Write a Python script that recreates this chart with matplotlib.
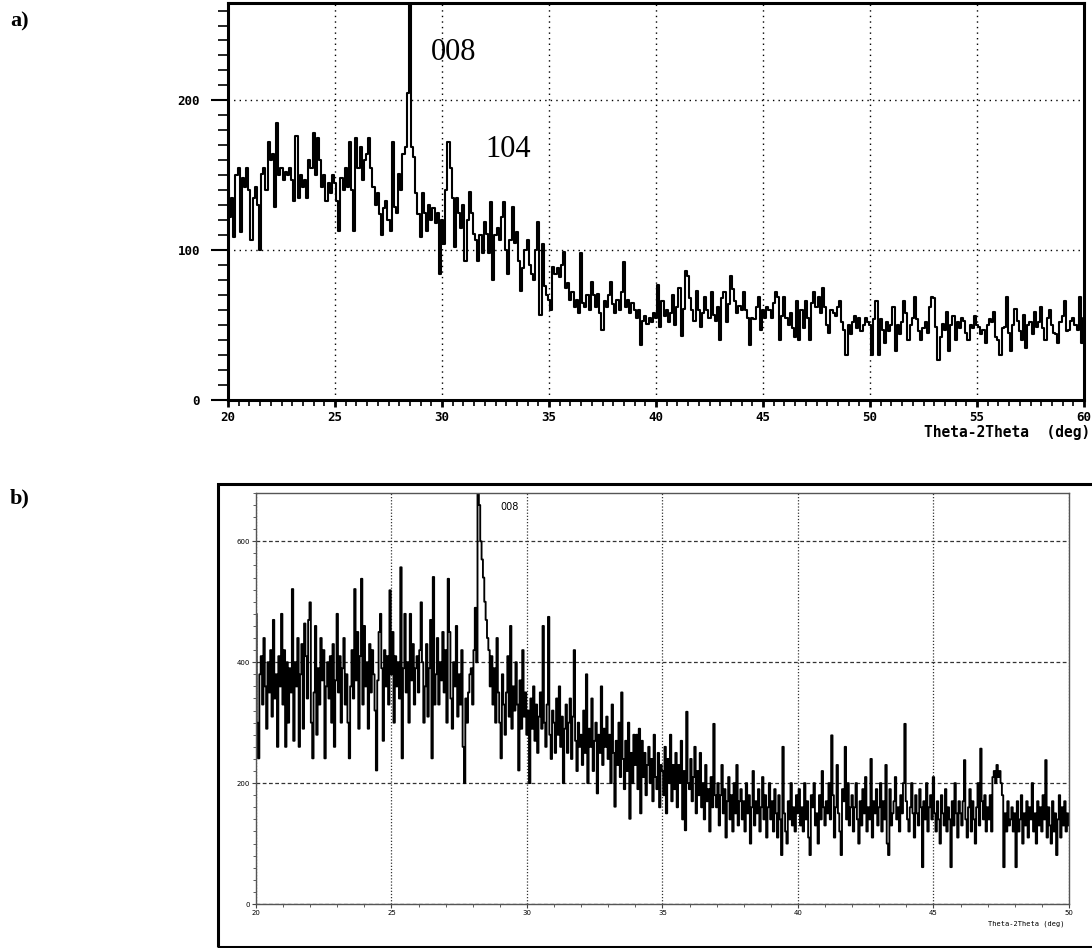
import numpy as np
import matplotlib
matplotlib.use("Agg")
import matplotlib.pyplot as plt
from matplotlib.ticker import MultipleLocator
from matplotlib.patches import Rectangle

# panel a) counts, 20-60 deg, step 0.1
counts_a = [
    140, 122, 135, 109, 150, 155, 112, 148, 142, 155,
    140, 107, 135, 142, 130, 100, 151, 155, 140, 172,
    160, 164, 129, 185, 150, 155, 147, 152, 150, 155,
    147, 133, 176, 135, 150, 142, 147, 135, 160, 155,
    178, 150, 175, 160, 142, 150, 133, 145, 138, 150,
    145, 133, 113, 148, 140, 155, 142, 172, 140, 113,
    175, 155, 169, 147, 160, 164, 175, 155, 142, 130,
    138, 124, 110, 128, 133, 120, 113, 172, 129, 125,
    151, 140, 164, 169, 205, 330, 169, 162, 138, 124,
    109, 138, 125, 113, 130, 120, 128, 118, 125, 84,
    120, 104, 140, 172, 155, 135, 102, 135, 125, 115,
    130, 93, 120, 139, 125, 111, 107, 93, 110, 98,
    119, 111, 98, 132, 80, 110, 115, 107, 122, 132,
    100, 84, 107, 129, 105, 112, 93, 73, 88, 100,
    107, 90, 84, 80, 100, 119, 57, 104, 76, 70,
    67, 60, 89, 84, 88, 82, 90, 99, 75, 78,
    67, 72, 62, 67, 58, 98, 65, 62, 70, 60,
    79, 70, 62, 71, 58, 47, 66, 62, 70, 79,
    64, 58, 67, 60, 72, 92, 62, 67, 58, 65,
    60, 55, 60, 37, 53, 56, 51, 55, 52, 58,
    55, 77, 49, 66, 56, 60, 52, 58, 70, 50,
    62, 75, 43, 61, 86, 83, 68, 60, 53, 73,
    60, 49, 58, 69, 60, 55, 72, 57, 53, 62,
    40, 68, 72, 52, 64, 83, 74, 66, 58, 63,
    60, 72, 60, 55, 37, 55, 54, 62, 69, 47,
    60, 55, 62, 60, 55, 65, 72, 69, 40, 56,
    69, 55, 50, 58, 48, 42, 66, 40, 60, 48,
    66, 55, 40, 65, 72, 62, 69, 58, 75, 62,
    50, 45, 60, 58, 56, 62, 66, 52, 47, 30,
    50, 44, 52, 56, 48, 55, 46, 50, 55, 52,
    50, 30, 54, 66, 30, 54, 47, 38, 52, 46,
    50, 62, 33, 50, 44, 52, 66, 58, 40, 50,
    55, 69, 54, 46, 40, 48, 52, 45, 62, 69,
    68, 49, 27, 42, 51, 47, 59, 33, 50, 56,
    40, 52, 48, 55, 53, 45, 40, 50, 48, 56,
    50, 49, 44, 47, 38, 50, 54, 52, 59, 42,
    40, 30, 48, 49, 69, 45, 33, 50, 61, 53,
    46, 40, 57, 35, 50, 52, 44, 59, 49, 52,
    62, 48, 40, 55, 60, 50, 45, 44, 38, 52,
    56, 66, 46, 47, 53, 55, 50, 47, 69, 38,
    55,
]

# panel b) counts, 20-50 deg, step 0.05
counts_b = [
    480, 300, 241, 380, 410, 330, 440, 360, 290, 400, 350, 420, 310, 470, 340, 380, 260, 410, 360, 480,
    330, 420, 260, 400, 300, 390, 350, 521, 270, 400, 360, 440, 260, 380, 430, 290, 464, 410, 340, 470,
    499, 300, 241, 350, 460, 280, 390, 330, 440, 370, 420, 241, 360, 400, 340, 410, 300, 430, 260, 370,
    480, 350, 410, 300, 390, 440, 330, 380, 300, 241, 360, 420, 340, 521, 370, 450, 290, 410, 538, 330,
    460, 360, 400, 290, 430, 350, 420, 380, 320, 221, 370, 450, 480, 390, 270, 420, 360, 410, 330, 519,
    380, 450, 300, 410, 360, 400, 340, 557, 241, 390, 480, 350, 400, 300, 480, 370, 430, 330, 390, 410,
    350, 420, 499, 400, 300, 360, 430, 310, 390, 470, 241, 541, 330, 380, 440, 330, 400, 370, 450, 350,
    420, 300, 538, 450, 340, 290, 400, 360, 460, 310, 380, 330, 420, 260, 200, 340, 300, 350, 380, 390,
    330, 420, 490, 400, 700, 660, 600, 570, 540, 500, 470, 440, 420, 360, 410, 330, 390, 300, 440, 350,
    300, 241, 380, 330, 280, 350, 410, 310, 460, 290, 360, 320, 400, 330, 221, 370, 290, 420, 310, 350,
    280, 320, 200, 340, 290, 360, 270, 330, 250, 310, 350, 290, 460, 300, 260, 330, 475, 280, 240, 320,
    300, 250, 340, 280, 360, 260, 310, 200, 290, 330, 250, 300, 340, 240, 310, 420, 270, 220, 300, 260,
    280, 230, 320, 250, 380, 200, 290, 260, 340, 220, 270, 300, 183, 280, 250, 360, 230, 290, 260, 310,
    240, 280, 200, 330, 250, 161, 270, 230, 300, 210, 350, 240, 190, 270, 220, 300, 141, 250, 200, 280,
    230, 280, 190, 290, 150, 270, 210, 250, 180, 230, 260, 200, 240, 170, 280, 210, 190, 250, 160, 230,
    220, 180, 260, 150, 240, 200, 280, 170, 230, 190, 250, 160, 230, 200, 270, 140, 220, 122, 318, 200,
    190, 240, 170, 210, 260, 150, 220, 180, 250, 160, 200, 140, 230, 170, 190, 120, 210, 160, 298, 180,
    160, 200, 130, 180, 230, 150, 190, 110, 170, 210, 140, 180, 120, 200, 150, 230, 130, 170, 190, 140,
    170, 120, 200, 150, 180, 100, 160, 220, 130, 170, 150, 190, 120, 160, 210, 140, 180, 110, 160, 200,
    140, 170, 120, 190, 150, 110, 180, 140, 81, 260, 150, 120, 100, 170, 140, 200, 130, 160, 120, 180,
    150, 190, 130, 160, 120, 200, 140, 170, 110, 81, 180, 160, 200, 130, 150, 100, 180, 140, 220, 160,
    130, 170, 150, 200, 140, 279, 180, 110, 160, 230, 150, 120, 81, 190, 170, 260, 140, 200, 130, 160,
    180, 120, 160, 200, 140, 100, 170, 130, 190, 150, 210, 120, 160, 140, 240, 110, 170, 150, 190, 130,
    160, 200, 120, 170, 140, 230, 100, 81, 190, 130, 150, 170, 210, 140, 160, 120, 180, 150, 200, 298,
    170, 140, 120, 160, 200, 150, 110, 180, 150, 130, 190, 160, 61, 170, 140, 200, 120, 160, 180, 140,
    210, 150, 120, 170, 140, 100, 180, 150, 130, 190, 120, 160, 140, 61, 170, 130, 200, 150, 110, 170,
    150, 130, 170, 238, 140, 110, 160, 190, 120, 170, 140, 100, 160, 200, 130, 257, 170, 140, 180, 120,
    160, 140, 180, 120, 210, 220, 200, 230, 210, 220, 200, 180, 61, 150, 120, 170, 130, 140, 160, 120,
    150, 61, 170, 120, 140, 180, 100, 150, 130, 170, 110, 160, 140, 200, 120, 150, 100, 170, 130, 160,
    120, 180, 140, 238, 110, 160, 130, 100, 170, 120, 150, 81, 140, 180, 110, 160, 130, 170, 120, 150,
    130,
]

theta_a = np.linspace(20, 60, len(counts_a))
theta_b = np.linspace(20, 50, len(counts_b))

peaks_a = [("008", 30.56, 232), ("104", 33.08, 167)]
peaks_b = [("008", 29.37, 656)]

mono = dict(family="DejaVu Sans Mono", weight="bold")

fig = plt.figure(figsize=(10.92, 9.48), dpi=100)

# ---- a) ----
ax1 = fig.add_axes([0.2088, 0.5781, 0.7839, 0.4187])
ax1.step(theta_a, counts_a, where="mid", color="black", lw=1.5)
ax1.set_xlim(20, 60)
ax1.set_ylim(0, 265)
ax1.set_xticks(range(20, 61, 5))
ax1.set_yticks([0, 100, 200])
ax1.xaxis.set_minor_locator(MultipleLocator(0.5))
ax1.yaxis.set_minor_locator(MultipleLocator(10))
ax1.tick_params(axis="y", which="major", direction="out", length=12, width=1.5, pad=8)
ax1.tick_params(axis="y", which="minor", direction="out", length=7, width=1.2)
ax1.tick_params(axis="x", which="major", direction="out", length=5, width=2, pad=3)
ax1.tick_params(axis="x", which="minor", direction="out", length=4, width=1.2)
ax1.grid(True, which="major", color="black", linestyle=(0, (1, 3)), lw=1)
for sp in ax1.spines.values():
    sp.set_linewidth(2.2)
for lab in ax1.get_xticklabels() + ax1.get_yticklabels():
    lab.set_fontfamily("DejaVu Sans Mono")
    lab.set_fontweight("bold")
    lab.set_fontsize(9)
ax1.text(1.007, -0.062, "Theta-2Theta  (deg)", transform=ax1.transAxes,
         ha="right", va="top", fontsize=10.5, **mono)
for txt, x, y in peaks_a:
    ax1.text(x, y, txt, ha="center", va="center", fontsize=22, family="Liberation Serif")

fig.text(0.009, 0.977, "a)", fontsize=16, fontweight="bold", family="Liberation Serif", va="center")

# ---- b) ----
ax2 = fig.add_axes([0.2344, 0.0464, 0.7445, 0.4336])
ax2.step(theta_b, counts_b, where="mid", color="black", lw=1.35)
ax2.set_xlim(20, 50)
ax2.set_ylim(0, 680)
ax2.set_xticks(range(20, 51, 5))
ax2.set_yticks([0, 200, 400, 600])
ax2.xaxis.set_minor_locator(MultipleLocator(1))
ax2.yaxis.set_minor_locator(MultipleLocator(20))
ax2.tick_params(which="major", direction="out", length=3, width=0.8, labelsize=5, pad=1.5, color="#444444")
ax2.tick_params(which="minor", direction="out", length=2, width=0.6, color="#444444")
ax2.xaxis.grid(True, color="#333333", linestyle=(0, (1, 1.5)), lw=0.9)
ax2.yaxis.grid(True, color="#333333", linestyle=(0, (3, 2)), lw=0.9)
for sp in ax2.spines.values():
    sp.set_linewidth(1.0)
    sp.set_color("#555555")
ax2.text(0.995, -0.04, "Theta-2Theta (deg)", transform=ax2.transAxes,
         ha="right", va="top", fontsize=5, family="DejaVu Sans Mono")
for txt, x, y in peaks_b:
    ax2.text(x, y, txt, ha="center", va="center", fontsize=7)

fig.patches.append(Rectangle((0.1996, 0.001), 0.85, 0.4885, transform=fig.transFigure,
                             fill=False, lw=2.2, edgecolor="black"))
fig.text(0.009, 0.4747, "b)", fontsize=16, fontweight="bold", family="Liberation Serif", va="center")

fig.savefig("out.png", dpi=100)
